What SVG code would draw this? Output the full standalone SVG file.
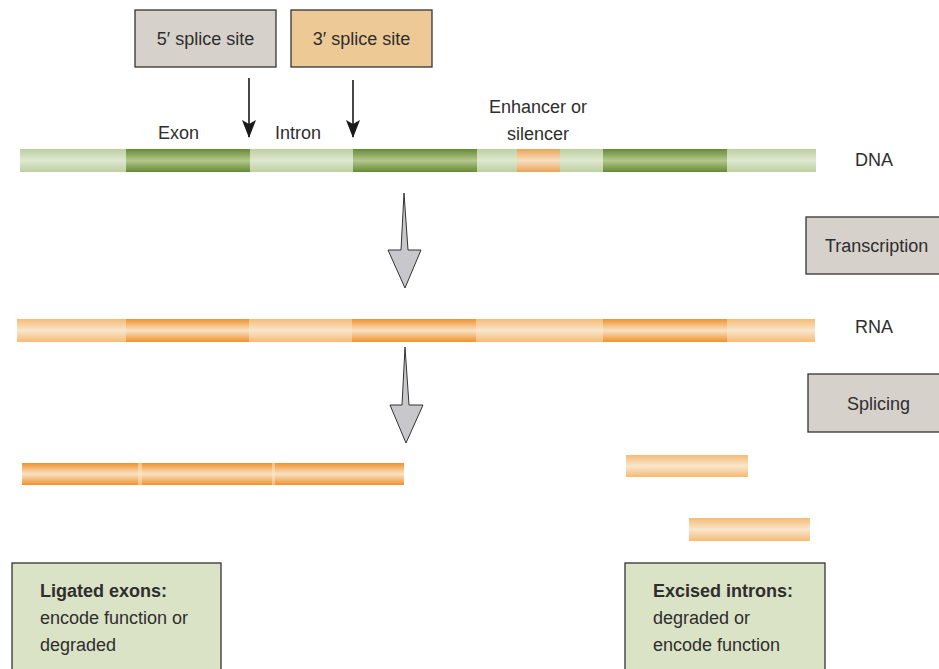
<svg xmlns="http://www.w3.org/2000/svg" width="939" height="669" viewBox="0 0 939 669">
<defs>
<linearGradient id="gLight" x1="0" y1="0" x2="0" y2="1">
<stop offset="0" stop-color="#bccfa0"/><stop offset="0.5" stop-color="#dfe8d0"/><stop offset="1" stop-color="#bccfa0"/>
</linearGradient>
<linearGradient id="gDark" x1="0" y1="0" x2="0" y2="1">
<stop offset="0" stop-color="#658a33"/><stop offset="0.5" stop-color="#b4c88e"/><stop offset="1" stop-color="#658a33"/>
</linearGradient>
<linearGradient id="gEnh" x1="0" y1="0" x2="0" y2="1">
<stop offset="0" stop-color="#e9a455"/><stop offset="0.5" stop-color="#f6dfc2"/><stop offset="1" stop-color="#e9a455"/>
</linearGradient>
<linearGradient id="gOD" x1="0" y1="0" x2="0" y2="1">
<stop offset="0" stop-color="#f0922a"/><stop offset="0.5" stop-color="#f8e2c6"/><stop offset="1" stop-color="#f0922a"/>
</linearGradient>
<linearGradient id="gOL" x1="0" y1="0" x2="0" y2="1">
<stop offset="0" stop-color="#f6bb74"/><stop offset="0.5" stop-color="#f8e6cd"/><stop offset="1" stop-color="#f6bb74"/>
</linearGradient>
<marker id="ah" viewBox="0 0 18 14" refX="17" refY="7" markerWidth="18" markerHeight="14" markerUnits="userSpaceOnUse" orient="auto">
<path d="M0,0 L18,7 L0,14 L4,7 Z" fill="#1a1a1a"/>
</marker>
</defs>
<style>
text{font-family:"Liberation Sans",Arial,sans-serif;fill:#2e2e2e;}
.lbl{font-size:18px;}
.box{stroke:#333;stroke-width:1.3;}
.big{fill:#c8c8cc;stroke:#333;stroke-width:1;stroke-linejoin:miter;}
</style>
<rect width="939" height="669" fill="#ffffff"/>

<g id="box5">
<rect class="box" x="135" y="10" width="141" height="57" fill="#d6d1cb"/>
<text class="lbl" x="205.5" y="45" text-anchor="middle">5′ splice site</text>
</g>
<g id="box3">
<rect class="box" x="291" y="10" width="141" height="57" fill="#ecc995"/>
<text class="lbl" x="361.5" y="45" text-anchor="middle">3′ splice site</text>
</g>

<g id="labels">
<text class="lbl" x="158" y="139">Exon</text>
<text class="lbl" x="275" y="139">Intron</text>
<text class="lbl" x="538" y="113" text-anchor="middle">Enhancer or</text>
<text class="lbl" x="538" y="140" text-anchor="middle">silencer</text>
</g>

<g id="dna">
<rect x="20" y="149" width="106" height="23" fill="url(#gLight)"/>
<rect x="126" y="149" width="124" height="23" fill="url(#gDark)"/>
<rect x="250" y="149" width="103" height="23" fill="url(#gLight)"/>
<rect x="353" y="149" width="124" height="23" fill="url(#gDark)"/>
<rect x="477" y="149" width="40" height="23" fill="url(#gLight)"/>
<rect x="517" y="149" width="43" height="23" fill="url(#gEnh)"/>
<rect x="560" y="149" width="43" height="23" fill="url(#gLight)"/>
<rect x="603" y="149" width="124" height="23" fill="url(#gDark)"/>
<rect x="727" y="149" width="89" height="23" fill="url(#gLight)"/>
<text class="lbl" x="855" y="166">DNA</text>
</g>

<g id="transcription">
<rect class="box" x="806" y="217" width="140" height="57" fill="#d6d1cb"/>
<text class="lbl" x="825" y="252">Transcription</text>
</g>

<g id="rna">
<rect x="17" y="319" width="109" height="23" fill="url(#gOL)"/>
<rect x="126" y="319" width="123" height="23" fill="url(#gOD)"/>
<rect x="249" y="319" width="103" height="23" fill="url(#gOL)"/>
<rect x="352" y="319" width="124" height="23" fill="url(#gOD)"/>
<rect x="476" y="319" width="127" height="23" fill="url(#gOL)"/>
<rect x="603" y="319" width="124" height="23" fill="url(#gOD)"/>
<rect x="727" y="319" width="88" height="23" fill="url(#gOL)"/>
<text class="lbl" x="855" y="333">RNA</text>
</g>

<g id="splicing">
<rect class="box" x="808" y="374" width="140" height="58" fill="#d6d1cb"/>
<text class="lbl" x="847" y="410">Splicing</text>
</g>

<g id="ligated">
<rect x="22" y="463" width="382" height="22" fill="url(#gOD)"/>
<rect x="138" y="463" width="4" height="22" fill="url(#gOL)"/>
<rect x="272" y="463" width="3" height="22" fill="url(#gOL)"/>
</g>

<g id="introns">
<rect x="626" y="455" width="122" height="22" fill="url(#gOL)"/>
<rect x="689" y="518" width="121" height="23" fill="url(#gOL)"/>
</g>

<g id="ligatedBox">
<rect class="box" x="12" y="563" width="209" height="120" fill="#dbe3c6"/>
<text class="lbl" x="40" y="597" font-weight="bold">Ligated exons:</text>
<text class="lbl" x="40" y="624">encode function or</text>
<text class="lbl" x="40" y="651">degraded</text>
</g>

<g id="excisedBox">
<rect class="box" x="625" y="563" width="200" height="120" fill="#dbe3c6"/>
<text class="lbl" x="653" y="597" font-weight="bold">Excised introns:</text>
<text class="lbl" x="653" y="624">degraded or</text>
<text class="lbl" x="653" y="651">encode function</text>
</g>

<g id="connectors">
<line x1="249" y1="78" x2="249" y2="137" stroke="#1a1a1a" stroke-width="1.6" marker-end="url(#ah)"/>
<line x1="353" y1="80" x2="353" y2="137" stroke="#1a1a1a" stroke-width="1.6" marker-end="url(#ah)"/>
<path class="big" d="M404,193 L408,250 L421,250 L405,288 L388,250 L401,250 Z"/>
<path class="big" d="M405,347 L409,405 L423,405 L406,443 L390,405 L402,405 Z"/>
</g>
</svg>
